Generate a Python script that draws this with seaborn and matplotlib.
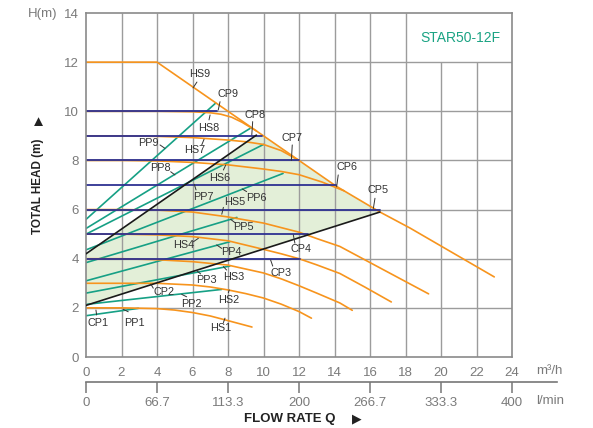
import pandas as pd
import seaborn as sns
import matplotlib.pyplot as plt

# ----------------------------
# Data (Q in m3/h, H in m)
# ----------------------------
hs1_q = [0, 2, 4, 5, 6, 7, 8, 9.35]
hs1_h = [2.0, 2.0, 1.97, 1.91, 1.81, 1.67, 1.48, 1.22]
hs2_q = [0, 2, 4, 6, 7, 8, 9, 10, 11, 12, 12.7]
hs2_h = [3.0, 3.0, 3.0, 2.93, 2.85, 2.73, 2.58, 2.4, 2.15, 1.85, 1.58]
hs3_q = [0, 2, 4, 6, 8, 10, 11, 12, 13, 14.3, 15.0]
hs3_h = [4.0, 4.0, 3.96, 3.88, 3.74, 3.42, 3.18, 2.9, 2.6, 2.2, 1.9]
hs4_q = [0, 2, 4, 6, 8, 10, 11, 12, 13, 14.3, 15.7, 17.2]
hs4_h = [5.0, 5.0, 4.97, 4.9, 4.73, 4.38, 4.2, 4.0, 3.75, 3.4, 2.85, 2.24]
hs5_q = [0, 2, 4, 6, 8, 10, 12, 13, 14.3, 16.5, 19.3]
hs5_h = [6.0, 6.0, 5.98, 5.9, 5.7, 5.45, 5.08, 4.82, 4.5, 3.65, 2.57]
hs6_q = [0, 2, 4, 6, 8, 10, 11, 12, 13.3, 14.55]
hs6_h = [8.0, 8.0, 7.98, 7.92, 7.82, 7.65, 7.55, 7.42, 7.12, 6.76]
hs7_q = [0, 2, 4, 6, 8, 9, 10, 11, 12]
hs7_h = [9.0, 9.0, 8.98, 8.93, 8.83, 8.76, 8.65, 8.4, 8.0]
hs8_q = [0, 2, 4, 6, 7, 7.6, 8.2, 8.8, 9.6]
hs8_h = [10.0, 10.0, 10.0, 9.98, 9.94, 9.88, 9.76, 9.55, 9.2]
hs9_q = [0, 4, 12, 14.1, 16.56, 18.25, 23.0]
hs9_h = [12.0, 12.0, 8.0, 6.95, 5.9, 5.25, 3.26]

# proportional pressure lines: start head at Q=0, end point on HS curve
pp_names = ["PP1", "PP2", "PP3", "PP4", "PP5", "PP6", "PP7", "PP8", "PP9"]
pp_h0 = [1.68, 2.14, 2.6, 3.1, 3.84, 4.36, 5.0, 5.23, 5.6]
pp_q1 = [2.95, 7.64, 8.1, 8.1, 8.5, 11.1, 10.0, 9.24, 7.3]
pp_h1 = [1.98, 2.75, 3.7, 4.69, 5.68, 7.47, 8.65, 9.3, 10.33]

# constant pressure lines: head level and end flow
cp_h = [4, 5, 6, 7, 8, 9, 10]
cp_q1 = [12.06, 12.5, 16.56, 14.1, 12.0, 9.9, 7.4]

# black limit lines
low_q = [0, 16.56]
low_h = [2.1, 5.9]
up_q = [0, 9.6]
up_h = [4.2, 9.03]

# green working area
area_q = [0, 9.6, 10.0, 12.0, 14.1, 16.56, 0]
area_h = [4.2, 9.03, 9.0, 8.0, 6.95, 5.9, 2.1]

q_ticks = list(range(0, 25, 2))
h_ticks = list(range(0, 15, 2))
lpm_pos = [0, 4, 8, 12, 16, 20, 24]
lpm_labels = ["0", "66.7", "113.3", "200", "266.7", "333.3", "400"]

# curve labels: text, label position, pointer start, pointer end
labels = [
    ("HS9", 6.42, 11.52, 6.25, 11.19, 6.03, 10.95),
    ("CP9", 7.99, 10.70, 7.55, 10.39, 7.45, 10.05),
    ("HS8", 6.90, 9.32, 6.93, 9.65, 6.99, 9.85),
    ("CP8", 9.50, 9.85, 9.39, 9.58, 9.34, 9.04),
    ("CP7", 11.60, 8.90, 11.62, 8.63, 11.57, 8.00),
    ("HS7", 6.14, 8.42, 6.52, 8.63, 6.65, 8.86),
    ("PP9", 3.49, 8.71, 4.17, 8.63, 4.45, 8.49),
    ("PP8", 4.17, 7.69, 4.77, 7.54, 5.01, 7.41),
    ("HS6", 7.55, 7.27, 7.74, 7.61, 7.87, 7.81),
    ("PP7", 6.60, 6.50, 6.20, 6.80, 6.10, 7.03),
    ("PP6", 9.60, 6.46, 9.05, 6.73, 8.80, 6.84),
    ("HS5", 8.40, 6.30, 7.74, 6.09, 7.65, 5.81),
    ("PP5", 8.86, 5.28, 8.39, 5.47, 8.15, 5.60),
    ("HS4", 5.48, 4.56, 6.05, 4.69, 6.33, 4.83),
    ("PP4", 8.20, 4.29, 7.65, 4.42, 7.36, 4.56),
    ("CP4", 12.10, 4.40, 11.77, 4.63, 11.68, 4.97),
    ("CP3", 11.00, 3.43, 10.52, 3.70, 10.40, 3.95),
    ("HS3", 8.30, 3.24, 7.92, 3.54, 7.74, 3.68),
    ("PP3", 6.80, 3.13, 6.46, 3.38, 6.24, 3.51),
    ("CP2", 4.41, 2.66, 3.79, 2.80, 3.65, 2.97),
    ("PP2", 5.95, 2.16, 5.67, 2.45, 5.39, 2.55),
    ("HS2", 8.02, 2.32, 8.02, 2.62, 8.07, 2.73),
    ("CP1", 0.69, 1.37, 0.60, 1.71, 0.56, 1.91),
    ("PP1", 2.72, 1.40, 2.38, 1.84, 2.10, 1.94),
    ("HS1", 7.59, 1.17, 7.74, 1.40, 7.83, 1.58),
    ("CP5", 16.47, 6.80, 16.28, 6.46, 16.19, 6.05),
    ("CP6", 14.70, 7.74, 14.21, 7.41, 14.12, 6.93),
]

ORANGE = "#f7941d"
TEAL = "#16a085"
NAVY = "#2e3192"
GRID = "#9c9c9c"
TXT = "#333333"
TICK = "#7a7a7a"


def long_df(series):
    rows = []
    for name, qs, hs in series:
        for i, (q, h) in enumerate(zip(qs, hs)):
            rows.append({"curve": name, "q": q, "h": h, "i": i})
    return pd.DataFrame(rows)


sns.set_theme(style="white")
plt.rcParams["font.family"] = ["Liberation Sans", "DejaVu Sans"]

fig = plt.figure(figsize=(5.93, 4.28), dpi=100)
ax = fig.add_axes([86 / 593, 1 - 357 / 428, 426 / 593, 344 / 428])
ax.set_xlim(0, 24)
ax.set_ylim(0, 14)

# grid (top band has no lines at 20 and 22, room for the model name)
ax.vlines(list(range(2, 19, 2)), 0, 14, color=GRID, lw=1.0, zorder=0.8)
ax.vlines([20, 22], 0, 12, color=GRID, lw=1.0, zorder=0.8)
ax.hlines(list(range(2, 13, 2)), 0, 24, color=GRID, lw=1.0, zorder=0.8)

ax.fill(area_q, area_h, color="#e3efd8", lw=0, zorder=0.5)

hs_df = long_df([
    ("HS1", hs1_q, hs1_h), ("HS2", hs2_q, hs2_h), ("HS3", hs3_q, hs3_h),
    ("HS4", hs4_q, hs4_h), ("HS5", hs5_q, hs5_h), ("HS6", hs6_q, hs6_h),
    ("HS7", hs7_q, hs7_h), ("HS8", hs8_q, hs8_h), ("HS9", hs9_q, hs9_h),
])
pp_df = long_df([(n, [0, q1], [h0, h1]) for n, h0, q1, h1 in zip(pp_names, pp_h0, pp_q1, pp_h1)])
cp_df = long_df([(f"CP{h}", [0, q1], [h, h]) for h, q1 in zip(cp_h, cp_q1)])
lim_df = long_df([("low", low_q, low_h), ("up", up_q, up_h)])

sns.lineplot(data=pp_df, x="q", y="h", units="curve", estimator=None, sort=False,
             color=TEAL, lw=1.2, ax=ax, zorder=2)
sns.lineplot(data=hs_df, x="q", y="h", units="curve", estimator=None, sort=False,
             color=ORANGE, lw=1.2, ax=ax, zorder=2.2)
sns.lineplot(data=cp_df, x="q", y="h", units="curve", estimator=None, sort=False,
             color=NAVY, lw=1.3, ax=ax, zorder=2.5)
sns.lineplot(data=lim_df, x="q", y="h", units="curve", estimator=None, sort=False,
             color="#1a1a1a", lw=1.2, ax=ax, zorder=3)

for name, tx, ty, px0, py0, px1, py1 in labels:
    ax.plot([px0, px1], [py0, py1], color=TXT, lw=0.7, zorder=4)
    ax.text(tx, ty, name, fontsize=7.8, color=TXT, ha="center", va="center", zorder=5)

ax.text(21.1, 12.98, "STAR50-12F", color="#1aa383", fontsize=10, ha="center", va="center")

ax.set_xticks(q_ticks)
ax.set_yticks(h_ticks)
ax.tick_params(length=0, labelsize=9.5, labelcolor=TICK)
ax.tick_params(axis="x", pad=7)
ax.tick_params(axis="y", pad=5)
ax.set_xlabel("")
ax.set_ylabel("")
for sp in ax.spines.values():
    sp.set_color("#8a8a8a")
    sp.set_linewidth(1.2)

# l/min axis below
ax2 = fig.add_axes([86 / 593, 1 - 382 / 428, 471 / 593, 0.0001])
ax2.set_xlim(0, 471 / 17.75)
ax2.set_yticks([])
ax2.patch.set_visible(False)
for side in ["left", "right", "top"]:
    ax2.spines[side].set_visible(False)
ax2.spines["bottom"].set_color("#777777")
ax2.spines["bottom"].set_linewidth(1.2)
ax2.set_xticks(lpm_pos)
ax2.set_xticklabels(lpm_labels)
ax2.tick_params(axis="x", bottom=True, direction="out", length=8, width=1.1,
                color="#777777", labelsize=9.5, labelcolor=TICK, pad=3)

fig.text(536 / 593, 1 - 371 / 428, "m³/h", fontsize=9.5, color=TICK, ha="left", va="center")
fig.text(536 / 593, 1 - 401 / 428, "l/min", fontsize=9.5, color=TICK, ha="left", va="center")
fig.text(28 / 593, 1 - 14 / 428, "H(m)", fontsize=9.5, color=TICK, ha="left", va="center")
fig.text(244 / 593, 1 - 419 / 428, "FLOW RATE Q", fontsize=9.5, fontweight="bold",
         color="#222222", ha="left", va="center")
fig.text(357 / 593, 1 - 419 / 428, "▶", fontsize=9, color="#222222", ha="center", va="center")
fig.text(38 / 593, 1 - 234 / 428, "TOTAL HEAD (m)", fontsize=8.5, fontweight="bold",
         color="#222222", rotation=90, ha="center", va="bottom")
fig.text(38 / 593, 1 - 122 / 428, "▲", fontsize=11, color="#222222", ha="center", va="center")

fig.savefig("out.png", dpi=100)
